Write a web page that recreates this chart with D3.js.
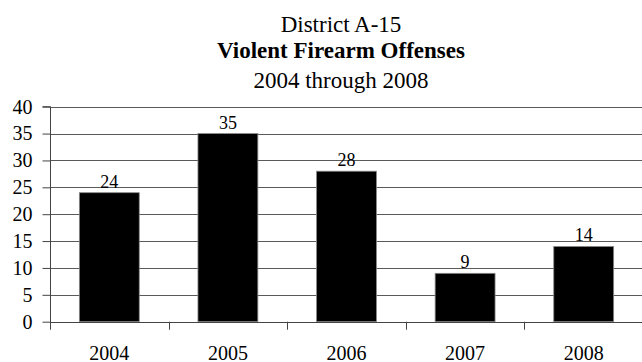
<!DOCTYPE html>
<html>
<head>
<meta charset="utf-8">
<script src="https://cdn.jsdelivr.net/npm/d3@7"></script>
<style>
  html, body { margin: 0; padding: 0; background: #fff; }
  svg { display: block; }
  svg text { font-family: "Liberation Serif", "Times New Roman", serif; }
</style>
</head>
<body>
<svg id="chart" width="642" height="362"></svg>
<script>
// Offense counts per year
const years = ["2004", "2005", "2006", "2007", "2008"];
const offenses = [24, 35, 28, 9, 14];
const yTicks = [0, 5, 10, 15, 20, 25, 30, 35, 40];
const titleLines = ["District A-15", "Violent Firearm Offenses", "2004 through 2008"];

const FONT = "Liberation Serif, Times New Roman, serif";
const svg = d3.select("#chart");
const plot = { left: 50, right: 643, top: 106.7, bottom: 321.7 };

const x = d3.scaleBand()
  .domain(years)
  .range([plot.left, plot.right])
  .paddingInner(0.495)
  .paddingOuter(0.2475);

const y = d3.scaleLinear().domain([0, 40]).range([plot.bottom, plot.top]);

// Title block
const titleY = [32, 58, 88];
svg.append("g").selectAll("text")
  .data(titleLines)
  .join("text")
  .attr("x", 341)
  .attr("y", (d, i) => titleY[i])
  .attr("text-anchor", "middle")
  .attr("font-family", FONT)
  .attr("font-size", 23)
  .attr("font-weight", (d, i) => i === 1 ? "bold" : "normal")
  .attr("fill", "#000")
  .text(d => d);

// Horizontal gridlines
svg.append("g").selectAll("line")
  .data(yTicks.filter(t => t > 0))
  .join("line")
  .attr("x1", plot.left).attr("x2", plot.right)
  .attr("y1", d => Math.round(y(d)) + 0.5).attr("y2", d => Math.round(y(d)) + 0.5)
  .attr("stroke", "#5a5a5a").attr("stroke-width", 1);

// Bars
const rows = years.map((yr, i) => ({ yr, v: offenses[i] }));
svg.append("g").selectAll("rect")
  .data(rows)
  .join("rect")
  .attr("x", d => x(d.yr))
  .attr("width", x.bandwidth())
  .attr("y", d => y(d.v))
  .attr("height", d => y(0) - y(d.v))
  .attr("fill", "#000")
  .attr("stroke", "#888")
  .attr("stroke-width", 0.8);

// Value labels
svg.append("g").selectAll("text")
  .data(rows)
  .join("text")
  .attr("x", d => x(d.yr) + x.bandwidth() / 2)
  .attr("y", d => y(d.v) - 5)
  .attr("text-anchor", "middle")
  .attr("font-family", FONT)
  .attr("font-size", 18)
  .attr("fill", "#000")
  .text(d => d.v);

// Y axis
const yAxis = d3.axisLeft(y).tickValues(yTicks).tickSize(8).tickPadding(10);
const gy = svg.append("g")
  .attr("transform", `translate(${plot.left + 0.5},0)`)
  .call(yAxis)
  .attr("font-family", FONT);
gy.select(".domain").attr("stroke", "#444").attr("d", `M-8,${y(40)}H0V${plot.bottom + 8}`);
gy.selectAll(".tick line").attr("stroke", "#444");
gy.selectAll(".tick text")
  .attr("font-family", FONT)
  .attr("font-size", 20)
  .attr("fill", "#000");

// X axis: ticks at category boundaries, labels at category centers
const boundaries = years.map(yr => x(yr) - x.step() * x.paddingInner() / 2);
const gx = svg.append("g");
gx.append("line")
  .attr("x1", plot.left).attr("x2", plot.right)
  .attr("y1", Math.round(y(0)) + 0.5).attr("y2", Math.round(y(0)) + 0.5)
  .attr("stroke", "#444");
gx.selectAll("line.tick")
  .data(boundaries.slice(1))
  .join("line")
  .attr("class", "tick")
  .attr("x1", d => Math.round(d) + 0.5).attr("x2", d => Math.round(d) + 0.5)
  .attr("y1", y(0)).attr("y2", y(0) + 8)
  .attr("stroke", "#444");
gx.selectAll("text")
  .data(years)
  .join("text")
  .attr("x", d => x(d) + x.bandwidth() / 2)
  .attr("y", 359.5)
  .attr("text-anchor", "middle")
  .attr("font-family", FONT)
  .attr("font-size", 20)
  .attr("fill", "#000")
  .text(d => d);
</script>
</body>
</html>
